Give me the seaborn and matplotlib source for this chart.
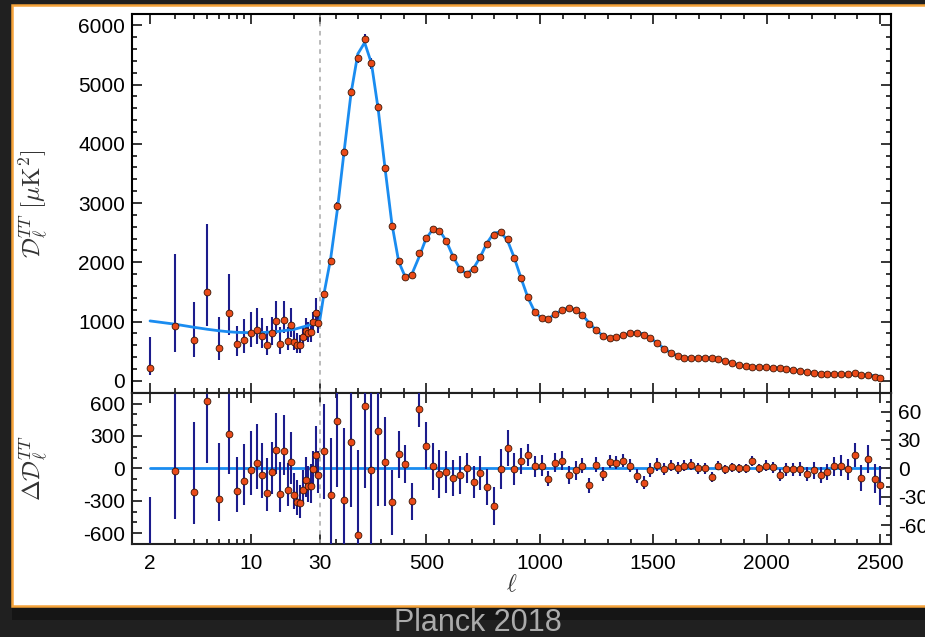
import numpy as np
import matplotlib
matplotlib.use("Agg")
import matplotlib.pyplot as plt
from matplotlib.patches import Rectangle
import seaborn as sns

# ---- low-ell (unbinned) TT points ----
ell_lo = [2, 3, 4, 5, 6, 7, 8, 9, 10, 11, 12, 13, 14, 15,
          16, 17, 18, 19, 20, 21, 22, 23, 24, 25, 26, 27, 28, 29]
dl_lo = [225, 933, 691, 1494, 551, 1146, 618, 697, 803, 865, 764, 601, 809, 1017,
         624, 1028, 669, 949, 657, 601, 601, 742, 843, 815, 820, 1000, 1140, 972]
err_lo_dn = [124, 439, 292, 567, 197, 371, 197, 219, 236, 241, 213, 163, 202, 225,
             169, 225, 147, 202, 135, 123, 135, 135, 152, 152, 157, 169, 196, 169]
err_lo_up = [522, 1202, 646, 1146, 522, 657, 309, 342, 354, 360, 292, 326, 275, 337,
             292, 326, 247, 276, 203, 202, 174, 185, 213, 185, 208, 169, 264, 225]
res_lo = [-785, -28, -220, 621, -288, 318, -205, -119, -12, 49, -61, -230, -31, 174,
          -233, 165, -202, 58, -245, -312, -324, -196, -110, -159, -165, -6, 125, -61]

# ---- binned high-ell TT points ----
ell_hi = [47.5, 77.5, 107.5, 137.5, 167.5, 197.5, 227.5, 257.5, 287.5, 317.5,
          347.5, 377.5, 407.5, 437.5, 467.5, 497.5, 527.5, 557.5, 587.5, 617.5,
          647.5, 677.5, 707.5, 737.5, 767.5, 797.5, 827.5, 857.5, 887.5, 917.5,
          947.5, 977.5, 1007.5, 1037.5, 1067.5, 1097.5, 1127.5, 1157.5, 1187.5, 1217.5,
          1247.5, 1277.5, 1307.5, 1337.5, 1367.5, 1397.5, 1427.5, 1457.5, 1487.5, 1517.5,
          1547.5, 1577.5, 1607.5, 1637.5, 1667.5, 1697.5, 1727.5, 1757.5, 1787.5, 1817.5,
          1847.5, 1877.5, 1907.5, 1937.5, 1967.5, 1997.5, 2027.5, 2057.5, 2087.5, 2117.5,
          2147.5, 2177.5, 2207.5, 2237.5, 2267.5, 2297.5, 2327.5, 2357.5, 2387.5, 2417.5,
          2447.5, 2477.5, 2499]
dl_hi = [1473, 2029, 2946, 3856, 4879, 5447, 5773, 5357, 4615, 3592,
         2619, 2029, 1749, 1782, 2153, 2417, 2558, 2535, 2356, 2086,
         1884, 1804, 1884, 2086, 2310, 2457, 2507, 2389, 2074, 1737,
         1417, 1169, 1057, 1040, 1130, 1203, 1226, 1197, 1113, 961,
         860, 759, 731, 737, 776, 804, 809, 776, 720, 641,
         545, 477, 422, 393, 388, 393, 393, 382, 371, 337,
         304, 270, 247, 242, 236, 231, 225, 214, 202, 185,
         169, 146, 129, 112, 112, 112, 112, 112, 129, 96,
         107, 73, 56]
res_hi = [18, -28, 50, -33, 28, -71, 66, -2, 39, 7,
          -36, 15, 5, -35, 63, 24, 2, -6, -4, -10,
          -7, 0, -14, -5, -20, -40, -1, 22, -1, 8,
          14, 2, 3, -11, 6, 8, -7, -2, 3, -18,
          4, -6, 7, 6, 8, 3, -8, -15, -2, 4,
          -1, 3, 0, 3, 4, 0, 0, -9, 3, -1,
          1, 0, 0, 8, 0, 3, 1, -7, -1, -1,
          -1, -6, -2, -7, -4, 2, 3, -1, 14, -10,
          10, -11, -18]
err_hi = [50, 60, 70, 76, 69, 90, 87, 88, 79, 47,
          34, 25, 20, 20, 19, 25, 25, 25, 22, 19,
          20, 16, 17, 18, 19, 20, 21, 19, 17, 14,
          12, 11, 11, 8, 10, 10, 10, 10, 8, 8,
          7.5, 7.4, 7, 7, 7, 7, 7.4, 7, 7.4, 6.5,
          6.3, 6, 6.5, 6, 5.5, 5.5, 5.5, 5, 5, 5,
          5, 5, 5, 5, 5, 5.5, 5.5, 6, 6.6, 6.6,
          7.4, 7.4, 9, 8.4, 8.6, 10, 11, 11, 12.6, 13.5,
          14.4, 15.3, 21]

# ---- best-fit LCDM curve ----
th_ell = [2, 3, 4, 5, 6, 7, 8, 10, 12, 15, 20, 25, 28, 30] + ell_hi
th_dl = [1011, 955, 905, 870, 845, 828, 818, 812, 815, 830, 870, 935, 985, 1025,
         1455, 2057, 2896, 3889, 4851, 5518, 5707, 5359, 4576, 3585,
         2655, 2014, 1744, 1817, 2090, 2393, 2556, 2541, 2360, 2096,
         1891, 1804, 1898, 2091, 2330, 2497, 2508, 2367, 2075, 1729,
         1403, 1167, 1054, 1051, 1124, 1195, 1233, 1199, 1110, 979,
         856, 765, 724, 731, 768, 801, 817, 791, 722, 637,
         546, 474, 422, 390, 384, 393, 393, 391, 368, 338,
         303, 270, 247, 240, 236, 228, 224, 215, 203, 186,
         170, 152, 131, 122, 117, 113, 110, 108, 105, 101,
         95, 86, 76]
ell_zero = [2, 2500]
zero = [0, 0]

major_x = [2, 10, 30, 500, 1000, 1500, 2000, 2500]
minor_x = [3, 4, 5, 6, 7, 8, 9, 20] + [m for m in range(100, 2500, 100) if m % 500]

blue = "#1a8cf0"
navy = "#1c1c8c"
orange = "#ea4a18"

# log below ell=30, linear above
K = 636.6


def fwd(l):
    l = np.asarray(l, dtype=float)
    lc = np.clip(l, 1e-3, None)
    return np.where(l <= 30, 30 + K * np.log10(lc / 30), l)


def inv(u):
    u = np.asarray(u, dtype=float)
    return np.where(u <= 30, 30 * 10 ** ((np.minimum(u, 30) - 30) / K), u)


sns.set_theme(style="ticks")
plt.rcParams["font.family"] = ["Liberation Sans", "DejaVu Sans"]
plt.rcParams["mathtext.fontset"] = "cm"
plt.rcParams["axes.unicode_minus"] = False

fig = plt.figure(figsize=(9.25, 6.37), dpi=100, facecolor="#202020")
fig.add_artist(Rectangle((12 / 925, 1 - 620 / 637), 1.0, 14 / 637, transform=fig.transFigure,
                         facecolor="#151515", edgecolor="none", zorder=-2))
fig.add_artist(Rectangle((12 / 925, 1 - 606 / 637), 1.0, 601 / 637, transform=fig.transFigure,
                         facecolor="white", edgecolor="#f5a33a", linewidth=1.8, zorder=-1))

ax1 = fig.add_axes([132 / 925, 1 - 392.7 / 637, 758.7 / 925, 378.7 / 637])
ax2 = fig.add_axes([132 / 925, 1 - 544 / 637, 758.7 / 925, 151.3 / 637], sharex=ax1)

# top panel
ax1.axvline(30, color="#a8a8a8", ls=(0, (3, 3)), lw=1.1, zorder=1)
ax1.errorbar(ell_lo, dl_lo, yerr=[err_lo_dn, err_lo_up], fmt="none", ecolor=navy, elinewidth=1.5, zorder=2)
ax1.errorbar(ell_hi, dl_hi, yerr=err_hi, fmt="none", ecolor=navy, elinewidth=1.5, zorder=2)
sns.lineplot(x=th_ell, y=th_dl, ax=ax1, color=blue, linewidth=2.0, zorder=3)
sns.scatterplot(x=ell_lo + ell_hi, y=dl_lo + dl_hi, ax=ax1, s=24, color=orange,
                edgecolor="#3a1505", linewidth=0.6, zorder=4)

# residual panel
ax2.axvline(30, color="#a8a8a8", ls=(0, (3, 3)), lw=1.1, zorder=1)
sns.lineplot(x=ell_zero, y=zero, ax=ax2, color=blue, linewidth=2.0, zorder=2)
ax2.errorbar(ell_lo, res_lo, yerr=[err_lo_dn, err_lo_up], fmt="none", ecolor=navy, elinewidth=1.5, zorder=3)
sns.scatterplot(x=ell_lo, y=res_lo, ax=ax2, s=24, color=orange,
                edgecolor="#3a1505", linewidth=0.6, zorder=4)

for ax in (ax1, ax2):
    ax.set_xscale("function", functions=(fwd, inv))
    ax.set_xlim(1.5, 2547)
    for sp in ax.spines.values():
        sp.set_linewidth(1.5)
        sp.set_color("black")

axr = ax2.twinx()
axr.errorbar(ell_hi, res_hi, yerr=err_hi, fmt="none", ecolor=navy, elinewidth=1.5, zorder=3)
sns.scatterplot(x=ell_hi, y=res_hi, ax=axr, s=24, color=orange,
                edgecolor="#3a1505", linewidth=0.6, zorder=4)
axr.set_xlim(1.5, 2547)

ax1.set_ylim(-200, 6190)
ax2.set_ylim(-700, 700)
axr.set_ylim(-80, 80)

ax2.set_xticks(major_x, labels=[str(t) for t in major_x])
ax2.set_xticks(minor_x, minor=True)
ax1.set_yticks([0, 1000, 2000, 3000, 4000, 5000, 6000])
ax1.set_yticks(list(range(-200, 6200, 200)), minor=True)
ax2.set_yticks([-600, -300, 0, 300, 600])
ax2.set_yticks(list(range(-700, 701, 100)), minor=True)
axr.set_yticks([-60, -30, 0, 30, 60])
axr.set_yticks(list(range(-80, 81, 10)), minor=True)

common = dict(direction="in", width=1.1, color="black", labelsize=15, labelcolor="black")
ax1.tick_params(which="both", top=True, right=True, labelbottom=False, **common)
ax2.tick_params(which="both", top=True, right=False, **common)
axr.tick_params(which="both", right=True, left=False, pad=5, **common)
for ax in (ax1, ax2, axr):
    ax.tick_params(which="major", length=7)
    ax.tick_params(which="minor", length=3.8)
ax1.tick_params(axis="y", pad=5)
ax2.tick_params(axis="y", pad=5)
ax2.tick_params(axis="x", pad=7)

ax1.set_ylabel(r"$\mathcal{D}_\ell^{TT}\ [\mu\mathrm{K}^2]$", fontsize=18, color="#333333", va="center")
ax1.yaxis.set_label_coords(-0.13, 0.5)
ax2.set_ylabel(r"$\Delta\mathcal{D}_\ell^{TT}$", fontsize=18, color="#333333", va="center")
ax2.yaxis.set_label_coords(-0.13, 0.5)
ax2.set_xlabel(r"$\ell$", fontsize=17, color="#333333", va="center")
ax2.xaxis.set_label_coords(0.5, -0.27)

fig.text(478 / 925, 1 - 631 / 637, "Planck 2018", ha="center", va="baseline",
         color="#ababab", fontsize=22)

fig.savefig("out.png", dpi=100, facecolor=fig.get_facecolor())
